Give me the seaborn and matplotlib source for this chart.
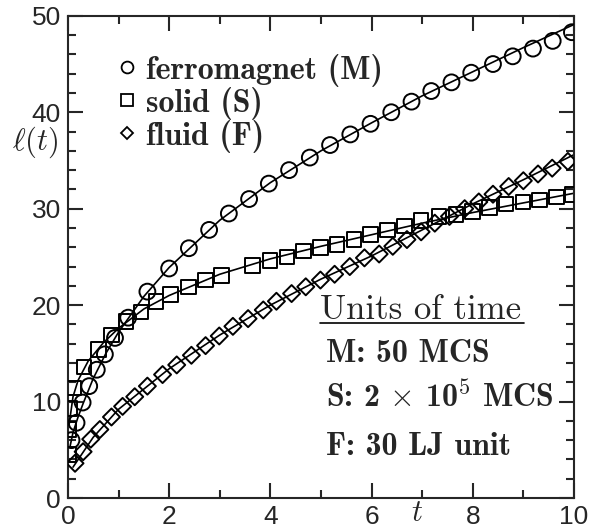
import matplotlib
matplotlib.use('Agg')
import matplotlib.pyplot as plt
import seaborn as sns
import pandas as pd
from matplotlib.lines import Line2D

# ferromagnet (M) symbols and fit curve
m_t = [0.07, 0.17, 0.29, 0.42, 0.57, 0.73, 0.93, 1.19, 1.57, 2.0, 2.39, 2.79, 3.18, 3.58,
       3.97, 4.37, 4.78, 5.18, 5.58, 5.98, 6.39, 6.79, 7.18, 7.58, 7.97, 8.4, 8.79, 9.19,
       9.58, 9.96]
m_l = [6.0, 7.8, 9.9, 11.6, 13.3, 14.9, 16.6, 18.7, 21.4, 23.8, 25.9, 27.8, 29.5, 31.0,
       32.6, 34.0, 35.3, 36.6, 37.7, 38.8, 40.0, 41.1, 42.2, 43.1, 44.1, 45.0, 45.8, 46.6,
       47.4, 48.3]
m_fit_t = [0.04, 0.1, 0.2, 0.3, 0.5, 0.75, 1.0, 1.5, 2.0, 3.0, 4.0, 5.0, 6.0, 7.0, 8.0, 9.0, 10.0]
m_fit_l = [5.3, 6.8, 8.4, 9.8, 12.4, 15.0, 17.2, 20.9, 23.9, 28.8, 32.7, 36.0, 38.9, 41.7, 44.2, 46.7, 49.1]

# solid (S)
s_t = [0.01, 0.01, 0.04, 0.12, 0.32, 0.6, 0.86, 1.15, 1.44, 1.74, 2.03, 2.38, 2.72, 3.03,
       3.65, 3.99, 4.33, 4.66, 4.99, 5.32, 5.65, 5.98, 6.31, 6.65, 6.98, 7.33, 7.67, 8.0,
       8.33, 8.66, 8.99, 9.32, 9.65, 9.96]
s_l = [4.5, 7.1, 9.3, 11.4, 13.6, 15.4, 16.9, 18.3, 19.3, 20.4, 21.1, 21.9, 22.6, 23.1,
       24.1, 24.6, 25.0, 25.6, 26.0, 26.3, 26.8, 27.3, 27.8, 28.2, 28.8, 29.2, 29.4, 29.7,
       30.1, 30.5, 30.7, 30.9, 31.2, 31.5]
s_fit_t = [0.02, 0.1, 0.2, 0.4, 0.7, 1.0, 1.5, 2.0, 3.0, 4.0, 5.0, 6.0, 7.0, 8.0, 9.0, 10.0]
s_fit_l = [7.5, 10.5, 12.2, 14.2, 16.1, 17.6, 19.6, 21.0, 23.2, 24.8, 26.1, 27.3, 28.5, 29.6, 30.6, 31.6]

# fluid (F)
f_t = [0.14, 0.3, 0.45, 0.63, 0.86, 1.08, 1.32, 1.57, 1.87, 2.15, 2.44, 2.72, 2.99, 3.26,
       3.56, 3.86, 4.12, 4.42, 4.7, 4.99, 5.27, 5.57, 5.86, 6.15, 6.42, 6.7, 6.98, 7.25,
       7.54, 7.84, 8.12, 8.4, 8.71, 9.0, 9.29, 9.57, 9.88]
f_l = [3.6, 4.8, 6.1, 7.1, 8.4, 9.5, 10.5, 11.6, 12.8, 13.8, 14.8, 15.8, 16.8, 17.8,
       18.6, 19.5, 20.4, 21.2, 21.9, 22.6, 23.2, 24.0, 24.9, 25.3, 26.1, 26.8, 27.6, 28.5,
       29.2, 30.0, 30.7, 31.5, 32.3, 32.9, 33.6, 34.2, 34.9]
f_fit_t = [0.1, 0.5, 1.0, 2.0, 3.0, 4.0, 5.0, 6.0, 7.0, 8.0, 9.0, 10.0]
f_fit_l = [3.2, 6.3, 9.2, 13.4, 16.9, 20.0, 22.7, 25.1, 27.8, 30.5, 33.0, 35.6]

labels = ['ferromagnet (M)', 'solid (S)', 'fluid (F)']
markers = ['o', 's', 'D']
units = ['M: 50 MCS', r'S: 2 $\times$ 10$^{\mathbf{5}}$ MCS', 'F: 30 LJ unit']

sns.set_style('ticks')
plt.rcParams['mathtext.fontset'] = 'cm'
plt.rcParams['font.family'] = ['Liberation Sans', 'DejaVu Sans']

fig = plt.figure(figsize=(5.96, 5.29), dpi=100)
ax = fig.add_axes([0.114, 0.0586, 0.849, 0.9115])

series = [(m_t, m_l, m_fit_t, m_fit_l), (s_t, s_l, s_fit_t, s_fit_l), (f_t, f_l, f_fit_t, f_fit_l)]
sizes = [130, 110, 75]
for (t, l, ft, fl), mk, sz in zip(series, markers, sizes):
    sns.lineplot(x=ft, y=fl, ax=ax, color='black', linewidth=1.2, estimator=None, sort=False)
    sns.scatterplot(x=t, y=l, ax=ax, marker=mk, s=sz, facecolors='none',
                    edgecolor='black', linewidth=1.4, zorder=3)

ax.set_xlim(0, 10)
ax.set_ylim(0, 50)
ax.set_xticks([0, 2, 4, 6, 8, 10])
ax.set_xticks([1, 3, 5, 7, 9], minor=True)
ax.set_yticks([0, 10, 20, 30, 40, 50])
ax.set_yticks([2, 4, 6, 8, 12, 14, 16, 18, 22, 24, 26, 28, 32, 34, 36, 38, 42, 44, 46, 48], minor=True)
ax.tick_params(which='both', direction='in', top=True, right=True, width=1.5, labelsize=19, pad=5)
ax.tick_params(which='major', length=11)
ax.tick_params(which='minor', length=6)
for sp in ax.spines.values():
    sp.set_linewidth(1.5)

ax.set_xlabel(r'$t$', fontsize=22)
ax.xaxis.set_label_coords(0.69, 0.0)
ax.set_ylabel(r'$\ell(t)$', fontsize=22, rotation=0)
ax.yaxis.set_label_coords(-0.065, 0.70)

handles = [Line2D([], [], marker=mk, linestyle='none', markerfacecolor='none', markeredgecolor='black',
                  markeredgewidth=1.3, markersize=ms) for mk, ms in zip(markers, [8.5, 8, 6.5])]
ax.legend(handles, labels, loc='upper left', bbox_to_anchor=(0.073, 0.948), frameon=False,
          prop={'family': 'cmb10', 'size': 23}, handlelength=0.6, handletextpad=0.3,
          labelspacing=0.0, borderaxespad=0)

ax.text(0.498, 0.3705, 'Units of time', transform=ax.transAxes, fontsize=25, family='cmr10')
ax.add_line(Line2D([0.498, 0.901], [0.363, 0.363], transform=ax.transAxes, color='black', linewidth=1.2))
for txt, yy in zip(units, [0.283, 0.187, 0.089]):
    ax.text(0.51, yy, txt, transform=ax.transAxes, fontsize=23, family='cmb10')

fig.savefig('out.png', dpi=100)
